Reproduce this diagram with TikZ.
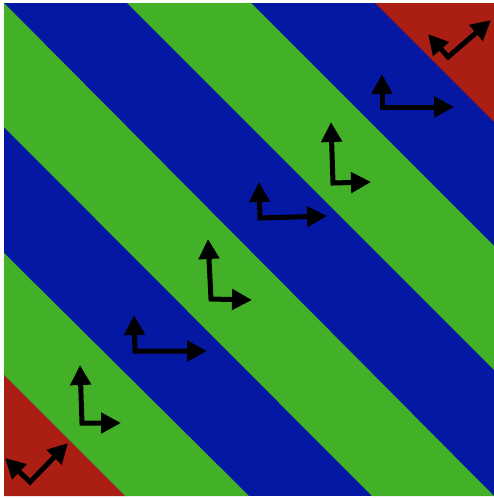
\documentclass[tikz,border=0pt]{standalone}
\usetikzlibrary{arrows.meta}
\definecolor{bandblue}{RGB}{4,24,164}
\definecolor{bandgreen}{RGB}{67,177,40}
\definecolor{bandred}{RGB}{170,30,20}
\tikzset{
  axes/.style={line width=5pt, black, line join=miter,
    {Triangle[length=20pt,width=20pt]}-{Triangle[length=20pt,width=20pt]}},
}
\begin{document}
\begin{tikzpicture}[x=1pt,y=-1pt]
\useasboundingbox (0,0) rectangle (494,498);
\fill[white] (0,0) rectangle (494,498);
% bands
\fill[bandblue] (4,3) rectangle (494,496);
\fill[bandgreen] (127,3) -- (251,3) -- (494,246) -- (494,370) -- cycle;
\fill[bandgreen] (4,3) -- (494,496) -- (372,496) -- (4,127) -- cycle;
\fill[bandgreen] (4,253) -- (249,496) -- (125,496) -- (4,375) -- cycle;
\fill[bandred] (375,3) -- (494,3) -- (494,122) -- cycle;
\fill[bandred] (4,375) -- (125,496) -- (4,496) -- cycle;
% frames (coordinates)
\coordinate (v1) at (30,482);  \coordinate (a1) at (5,458);   \coordinate (b1) at (68,443);
\coordinate (v2) at (82,423);  \coordinate (a2) at (80,365);  \coordinate (b2) at (121,423);
\coordinate (v3) at (135,351); \coordinate (a3) at (134,315); \coordinate (b3) at (207,351);
\coordinate (v4) at (211,299); \coordinate (a4) at (208,239); \coordinate (b4) at (252,300);
\coordinate (v5) at (260,218); \coordinate (a5) at (259,182); \coordinate (b5) at (327,216);
\coordinate (v6) at (333,183); \coordinate (a6) at (331,122); \coordinate (b6) at (371,182);
\coordinate (v7) at (382,107); \coordinate (a7) at (382,74);  \coordinate (b7) at (454,107);
\coordinate (v8) at (448,57);  \coordinate (a8) at (428,34);  \coordinate (b8) at (491,20);
\foreach \i in {1,...,8}{
  \draw[axes] (a\i) -- (v\i) -- (b\i);
}
\end{tikzpicture}
\end{document}
